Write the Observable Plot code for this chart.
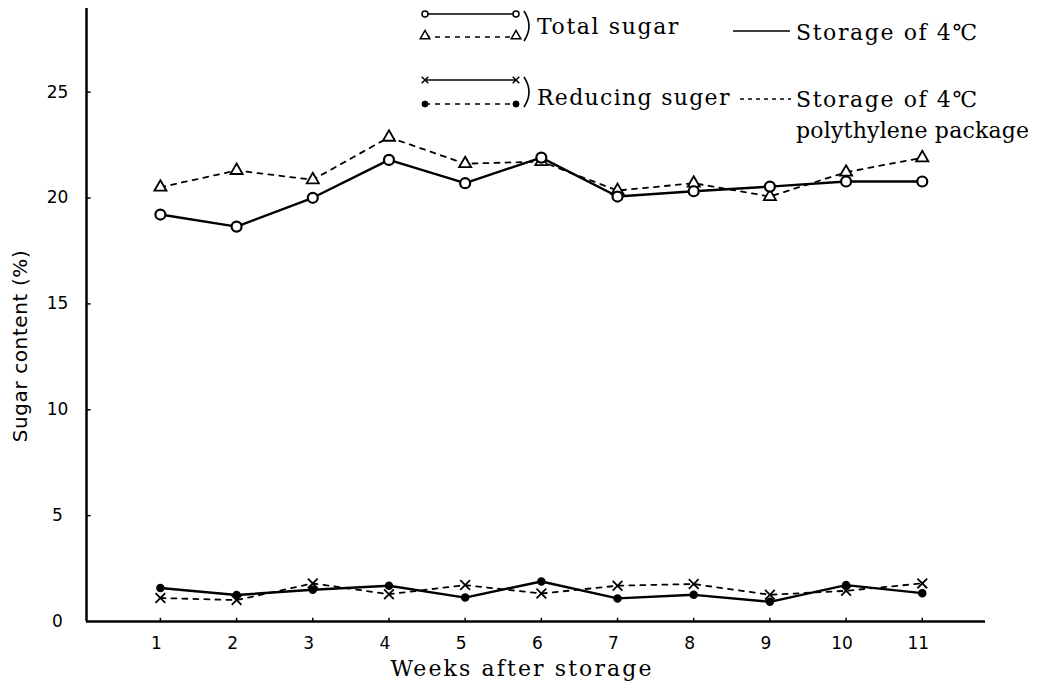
<!DOCTYPE html>
<html><head><meta charset="utf-8">
<script src="https://cdn.jsdelivr.net/npm/d3@7"></script>
<script src="https://cdn.jsdelivr.net/npm/@observablehq/plot@0.6"></script>
<style>
body{margin:0;background:#fff;}
#wrap{position:relative;width:1047px;height:687px;overflow:hidden;}
#wrap svg{position:absolute;left:0;top:0;}
</style></head><body><div id="wrap"></div>
<script>
// ---- data ----
const weeks = [1,2,3,4,5,6,7,8,9,10,11];
const totalSugar4C  = [19.22,18.65,20.01,21.80,20.70,21.91,20.07,20.32,20.54,20.78,20.78];
const totalSugarPE  = [20.51,21.30,20.86,22.87,21.62,21.72,20.35,20.70,20.07,21.22,21.90];
const reducing4C    = [1.58,1.25,1.50,1.69,1.13,1.89,1.09,1.26,0.93,1.72,1.34];
const reducingPE    = [1.11,1.01,1.80,1.29,1.72,1.32,1.69,1.77,1.26,1.45,1.80];
const yTicks = [0,5,10,15,20,25];
const yTitle = "Sugar content (%)";
const xTitle = "Weeks after storage";
const legendSeries = ["Total sugar","Reducing suger"];
const legendStorage = ["Storage of 4℃","Storage of 4℃","polythylene package"];

const rows = weeks.map((w,i)=>({week:w,total4:totalSugar4C[i],totalPE:totalSugarPE[i],red4:reducing4C[i],redPE:reducingPE[i]}));

const serif = "DejaVu Serif";
const sans = "DejaVu Sans";

const plot = Plot.plot({
  width:1047, height:687,
  marginLeft:86, marginRight:62, marginTop:8, marginBottom:66,
  x:{domain:[0.03,11.83], label:null},
  y:{domain:[0,28.95], label:null},
  style:{background:"white", color:"black"},
  marks:[
    Plot.axisX(weeks,{tickSize:0, tickPadding:15, fontSize:17, fontFamily:sans, dx:-4}),
    Plot.axisY(yTicks,{tickSize:0, tickPadding:29, textAnchor:"middle", fontSize:17, fontFamily:sans}),
    Plot.ruleX(weeks,{y1:0, y2:0.15, strokeWidth:1.5}),
    Plot.ruleY(yTicks.filter(d=>d>0),{x1:0.03, x2:0.09, strokeWidth:1.5}),
    Plot.ruleY([0],{strokeWidth:2.5}),
    Plot.ruleX([0.03],{strokeWidth:2.5}),
    Plot.text([yTitle],{frameAnchor:"left", textAnchor:"middle", rotate:-90, dx:-66, dy:31, fontSize:20, fontFamily:sans}),
    Plot.text([xTitle],{frameAnchor:"bottom", textAnchor:"middle", dx:-14, dy:54, fontSize:22, fontFamily:serif}),
    Plot.line(rows,{x:"week", y:"totalPE", stroke:"black", strokeWidth:1.8, strokeDasharray:"5,6"}),
    Plot.line(rows,{x:"week", y:"total4", stroke:"black", strokeWidth:2.4}),
    Plot.line(rows,{x:"week", y:"redPE", stroke:"black", strokeWidth:1.8, strokeDasharray:"5,6"}),
    Plot.line(rows,{x:"week", y:"red4", stroke:"black", strokeWidth:2.4}),
    Plot.dot(rows,{x:"week", y:"totalPE", symbol:"triangle", r:4.5, fill:"white", stroke:"black", strokeWidth:1.8}),
    Plot.dot(rows,{x:"week", y:"total4", r:5, fill:"white", stroke:"black", strokeWidth:2.2}),
    Plot.dot(rows,{x:"week", y:"redPE", symbol:"times", r:4.5, stroke:"black", strokeWidth:1.8}),
    Plot.dot(rows,{x:"week", y:"red4", r:3.5, fill:"black", stroke:"black"})
  ]
});
document.getElementById("wrap").appendChild(plot);
// widen the letter spacing of the axis titles like the typewritten original
d3.select(plot).selectAll("text").each(function(){
  const s = this.textContent;
  if (s === xTitle) d3.select(this).attr("letter-spacing","2.1px");
  if (s === yTitle) d3.select(this).attr("letter-spacing","0.6px");
});

// ---- legend overlay (inside the frame, top) ----
const svg = d3.select("#wrap").append("svg").attr("width",1047).attr("height",160)
  .style("pointer-events","none");
const g = svg.append("g").attr("stroke","black").attr("fill","none");
const L0 = 425, L1 = 516;
function seg(y,dash,w){ g.append("line").attr("x1",L0).attr("x2",L1).attr("y1",y).attr("y2",y)
  .attr("stroke-width",w).attr("stroke-dasharray",dash?"5,5":null); }
seg(14,false,1.6); seg(37,true,1.6); seg(80,false,1.6); seg(104,true,1.6);
[L0,L1].forEach(x=>{
  g.append("circle").attr("cx",x).attr("cy",14).attr("r",3).attr("fill","white").attr("stroke-width",1.5);
  g.append("path").attr("d",d3.symbol(d3.symbolTriangle,40)()).attr("transform",`translate(${x},36)`).attr("fill","white").attr("stroke-width",1.5);
  g.append("path").attr("d",d3.symbol(d3.symbolTimes,30)()).attr("transform",`translate(${x},80)`).attr("stroke-width",1.5);
  g.append("circle").attr("cx",x).attr("cy",104).attr("r",3).attr("fill","black");
});
g.append("path").attr("d","M524,11 Q534,26 524,41").attr("stroke-width",1.6);
g.append("path").attr("d","M524,77 Q534,92 524,107").attr("stroke-width",1.6);
g.append("line").attr("x1",733).attr("x2",790).attr("y1",31).attr("y2",31).attr("stroke-width",1.6);
g.append("line").attr("x1",740).attr("x2",791).attr("y1",99).attr("y2",99).attr("stroke-width",1.6).attr("stroke-dasharray","4,4");
const t = svg.append("g").attr("font-family",serif).attr("font-size",22).attr("fill","black");
t.append("text").attr("x",537).attr("y",34).attr("letter-spacing","1.6px").text(legendSeries[0]);
t.append("text").attr("x",537).attr("y",105).attr("letter-spacing","1.3px").text(legendSeries[1]);
t.append("text").attr("x",796).attr("y",40).attr("letter-spacing","1.6px").text(legendStorage[0]);
t.append("text").attr("x",796).attr("y",107).attr("letter-spacing","1.6px").text(legendStorage[1]);
t.append("text").attr("x",796).attr("y",138).attr("letter-spacing","0.2px").text(legendStorage[2]);
</script></body></html>
